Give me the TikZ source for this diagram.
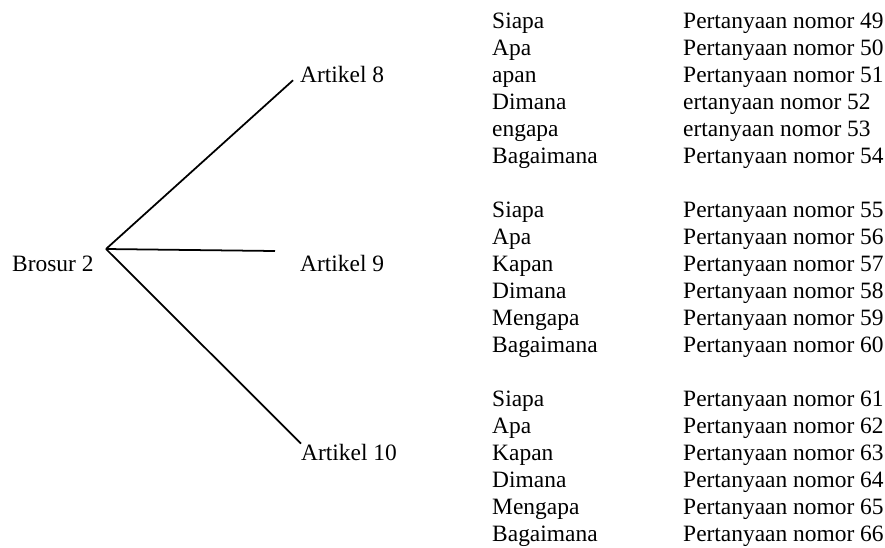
\documentclass[tikz,border=0pt]{standalone}
\usepackage{fontspec}
\setmainfont{Liberation Serif}
\usepackage{tikz}

\tikzset{
    label text/.style={anchor=base west, inner sep=0pt, font=\fontsize{20}{24}\selectfont},
    branch/.style={line width=1.5pt}
}

\begin{document}
\begin{tikzpicture}[x=0.03cm, y=-0.03cm]
        \useasboundingbox (0, 0) rectangle (885, 547);
        % Brochure
        \node [label text] (brosur) at (12, 271) {Brosur 2};
        \coordinate (root) at (106, 249);
        % Articles
        \node [label text] (art8) at (300, 82) {Artikel 8};
        \node [label text] (art9) at (300, 271) {Artikel 9};
        \node [label text] (art10) at (301, 460) {Artikel 10};
        \coordinate (end9) at (275, 251);
        % Branches
        \draw [branch, shorten >=8pt] (root) -- (art8.west);
        \draw [branch] (root) -- (end9);
        \draw [branch] (root) -- (art10.north west);
        % Questions
        % 1
        \foreach \w/\p [count=\i from 0] in {Siapa/Pertanyaan nomor 49, Apa/Pertanyaan nomor 50,
            apan/Pertanyaan nomor 51, Dimana/ertanyaan nomor 52, engapa/ertanyaan nomor 53,
            Bagaimana/Pertanyaan nomor 54} {
            \node [label text] (wa\i) at (492, 28 + 27*\i) {\w};
            \node [label text] (pa\i) at (683, 28 + 27*\i) {\p};
        }
        % 2
        \foreach \w/\p [count=\i from 0] in {Siapa/Pertanyaan nomor 55, Apa/Pertanyaan nomor 56,
            Kapan/Pertanyaan nomor 57, Dimana/Pertanyaan nomor 58, Mengapa/Pertanyaan nomor 59,
            Bagaimana/Pertanyaan nomor 60} {
            \node [label text] (wb\i) at (492, 217 + 27*\i) {\w};
            \node [label text] (pb\i) at (683, 217 + 27*\i) {\p};
        }
        % 3
        \foreach \w/\p [count=\i from 0] in {Siapa/Pertanyaan nomor 61, Apa/Pertanyaan nomor 62,
            Kapan/Pertanyaan nomor 63, Dimana/Pertanyaan nomor 64, Mengapa/Pertanyaan nomor 65,
            Bagaimana/Pertanyaan nomor 66} {
            \node [label text] (wc\i) at (492, 406 + 27*\i) {\w};
            \node [label text] (pc\i) at (683, 406 + 27*\i) {\p};
        }
\end{tikzpicture}
\end{document}
